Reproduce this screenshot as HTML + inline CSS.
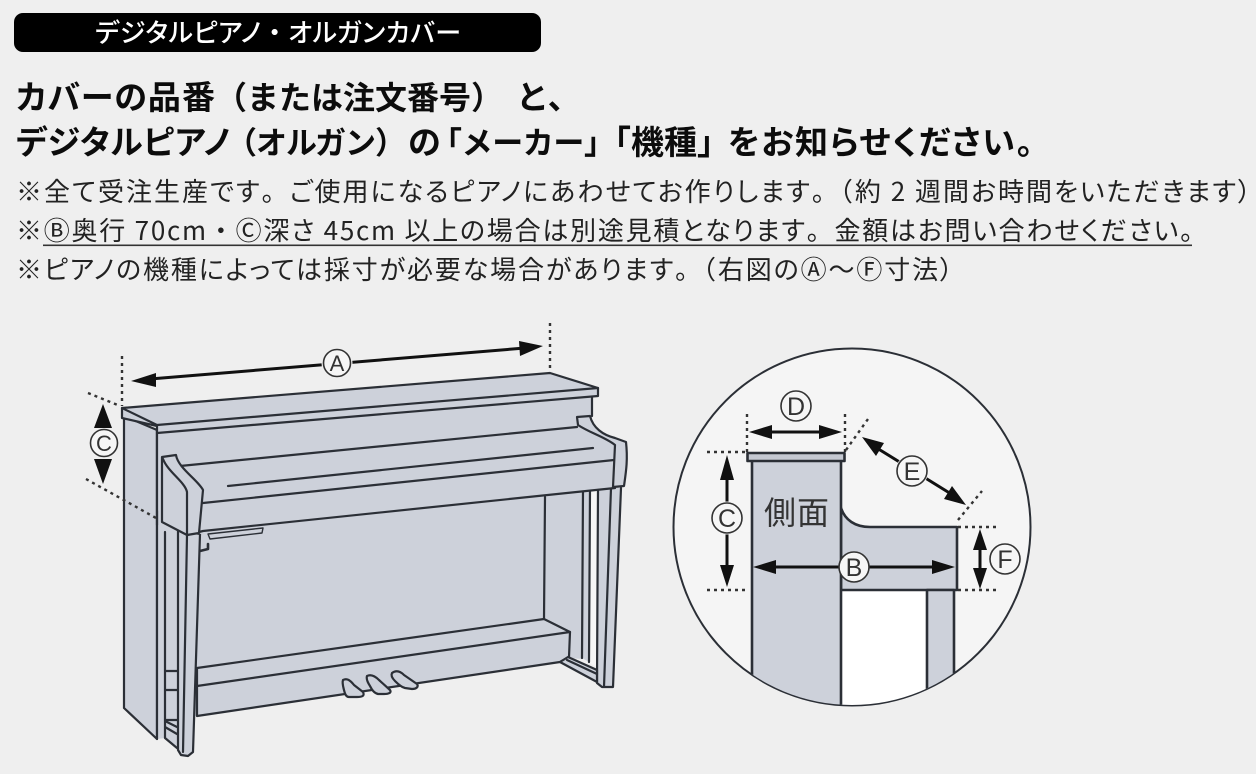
<!DOCTYPE html>
<html lang="ja"><head><meta charset="utf-8"><title>デジタルピアノ・オルガンカバー</title>
<style>
html,body{margin:0;padding:0;background:#efefef;width:1256px;height:774px;overflow:hidden}
svg{display:block}
text{font-family:"Liberation Sans","Noto Sans CJK JP",sans-serif}
.jp{font-family:"Noto Sans CJK JP",sans-serif;font-feature-settings:"palt" 1}
.n{font-feature-settings:normal}
.h{font-weight:700;font-size:33px;fill:#0c0c0c}
.b{font-weight:400;font-size:26px;fill:#222}
.f{fill:#cdd1da;stroke:none}
.p{fill:#cdd1da;stroke:#2b2f36;stroke-width:2.2;stroke-linejoin:round}
.l{fill:none;stroke:#2b2f36;stroke-width:2.2;stroke-linecap:round;stroke-linejoin:round}
.d{fill:none;stroke:#333;stroke-width:2.4;stroke-dasharray:3 4}
.a{fill:none;stroke:#111;stroke-width:3}
.ah{fill:#111}
.c{fill:#f6f6f6;stroke:#333;stroke-width:1.6}
.t{font-family:"Liberation Sans",sans-serif;fill:#333;text-anchor:middle}
</style></head><body>
<svg width="1256" height="774" viewBox="0 0 1256 774" xmlns="http://www.w3.org/2000/svg">
<rect width="1256" height="774" fill="#efefef"/>
<rect x="14" y="13" width="527" height="39" rx="9" fill="#000"/>
<text class="jp" x="95" y="42" font-size="26" font-weight="500" fill="#fff" textLength="366" lengthAdjust="spacing">デジタルピアノ<tspan class="n">・</tspan>オルガンカバー</text>

<text class="jp h" x="16" y="109" textLength="199" lengthAdjust="spacing">カバーの品番</text>
<text class="jp h n" style="font-size:32px" x="215" y="109" textLength="288" lengthAdjust="spacing">（または注文番号）</text>
<text class="jp h n" x="516" y="109">と、</text>

<text class="jp h" x="16" y="154" textLength="214" lengthAdjust="spacing">デジタルピアノ</text>
<text class="jp h n" style="font-size:31px" x="226" y="154" textLength="180" lengthAdjust="spacing">（オルガン）</text>
<text class="jp h n" x="408" y="154">の</text>
<text class="jp h n" style="font-size:31px" x="431" y="154" textLength="184" lengthAdjust="spacing">「メーカー」</text>
<text class="jp h n" x="598" y="154">「機種」</text>
<text class="jp h" x="728" y="154" textLength="305" lengthAdjust="spacing">をお知らせください。</text>

<text class="jp b" x="16" y="201" textLength="1235" lengthAdjust="spacing">※全て受注生産です<tspan class="n">。</tspan>ご使用になるピアノにあわせてお作りします<tspan class="n">。（</tspan>約 2 週間お時間をいただきます）</text>
<text class="jp b" x="16" y="240" textLength="1177" lengthAdjust="spacing">※Ⓑ奥行 70cm<tspan class="n">・</tspan>Ⓒ深さ 45cm 以上の場合は別途見積となります<tspan class="n">。</tspan>金額はお問い合わせください。</text>
<rect x="43" y="244.5" width="1149" height="1.6" fill="#333"/>
<text class="jp b" x="16" y="279" textLength="937" lengthAdjust="spacing">※ピアノの機種によっては採寸が必要な場合があります<tspan class="n">。（</tspan>右図のⒶ～Ⓕ寸法）</text>

<!-- Left piano -->
<g>
<polygon class="p" points="124,416 157,430 157,739 124,708"/>
<polygon class="f" points="157,430 592,394 592,420 615,488 545,497 545,625 420,660 195,716 195,540 157,540"/>
<polygon class="f" points="545,488 584,488 583,659 568,658 545,625"/>
<line class="l" x1="545" y1="497" x2="544" y2="619"/>
<polygon fill="#f6f6f6" points="590,488 598,488 597,668 589,662"/>
<polygon class="f" points="583,488 590,488 589,662 582,658"/>
<polygon class="f" points="598,488 621,487 614,686 602,688 597,683"/>
<path class="l" d="M583,489 L582,658 M590,489 L589,662 M598,488 L597,683 L602,687 L613,687 L621,488 M611,488 L604,687"/>
<polygon class="p" points="197,668 544,619 570,632 569,657 560,662 197,716"/>
<path class="l" d="M197,686 L570,632"/>
<polygon class="p" points="560,662 568,657 597,670 597,682"/>
<path class="l" d="M567,660 L597,674"/>
<path class="p" d="M343,680 C347,678 350,680 354,685 L363,692 C365,696 362,697 357,697 L349,697 C346,697 345,694 344,690 C343,686 342,683 343,680 Z"/>
<path class="p" d="M367,676 C371,674 375,676 379,680 L390,690 C392,693 388,694 384,694 L378,694 C374,693 372,690 370,686 C368,683 366,679 367,676 Z"/>
<path class="p" d="M392,673 C396,670 400,671 404,675 L417,684 C419,687 416,689 412,689 L405,688 C401,687 398,684 395,681 C392,678 391,675 392,673 Z"/>
<polygon class="f" points="157,520 178,520 177,748 165,738 157,739"/>
<path class="l" d="M157,430 L157,739 M165,532 L165,738 L177,748 M165,671 L177,671 M165,690 L177,690 M165,721 L177,727 M165,727 L177,734 M165,720 L177,720"/>
<polygon class="p" points="178,530 200,534 193,752 188,756 181,755 178,750"/>
<path class="l" d="M187,535 L183,752"/>
<polygon class="f" points="158,433 592,396 592,420 578,425 616,445 624,486 199,534 187,535 162,522 158,510"/>
<line class="l" x1="157" y1="433" x2="157" y2="525"/>
<line class="l" x1="592" y1="397" x2="592" y2="416"/>
<polygon class="p" points="122,408 550,373 598,388 598,396 157,433 157,426 122,418"/>
<path class="l" d="M122,408 L157,425 L598,388"/>
<path class="l" d="M180,466 L577,427 M228,486 L593,448 M203,503 L614,460 M187,535 L203,531 L615,488"/>
<path class="p" d="M162,457 L176,455 C178,468 198,480 203,490 L199,533 L187,535 L162,522 Z"/>
<path class="l" d="M163,459 C168,472 185,482 187,492 L187,535"/>
<path class="p" d="M577,417 L590,416 C593,428 603,435 615,438 L626,442 C628,460 626,472 624,486 L613,487 L615,445 C605,437 590,433 578,425 Z"/>
<polygon class="p" style="stroke-width:1.4" points="208,534 263,528 262,533 210,539"/>
<path class="l" style="stroke-width:2.6" d="M208,544 L208,549 L200,551"/>
<path class="d" d="M122,356 L122,406 M88,393 L120,406 M86,479 L156,518 M550,323 L550,371"/>
<path class="a" d="M150,379 L525,348"/>
<path class="ah" d="M131,381 L156,373 L156,387 Z M543,346 L519,341 L520,356 Z"/>
<circle cx="337" cy="363" r="15.5" fill="#efefef"/>
<circle class="c" cx="337" cy="363" r="13.5"/><text class="t" x="337" y="371" font-size="22">A</text>
<path class="ah" d="M103,404 L94,428 L112,428 Z M103,484 L94,459 L112,459 Z"/>
<circle class="c" cx="104" cy="443" r="13.5"/><text class="t" x="104" y="451" font-size="22">C</text>
</g>

<!-- Side circle -->
<g>
<circle cx="852" cy="527" r="178.5" fill="#f5f5f5" stroke="#2b2f36" stroke-width="2"/>
<clipPath id="cc"><circle cx="852" cy="527" r="178"/></clipPath>
<g clip-path="url(#cc)">
<rect x="841" y="590" width="86" height="120" fill="#fff"/>
<path class="p" style="stroke-width:2.6" d="M841,508 C845,520 855,527 870,527 L957,527 L957,590 L841,590 Z"/>
<rect x="927" y="590" width="27" height="120" class="p" style="stroke-width:2.6"/>
<rect x="752" y="460" width="89" height="260" class="p" style="stroke-width:2.6"/>
<rect x="747.5" y="453" width="97" height="8" class="p" style="fill:#c4c8d1;stroke-width:2.6"/>
</g>
<text class="jp" x="764" y="524" font-size="32" fill="#333" textLength="65" lengthAdjust="spacing">側面</text>
<path class="d" d="M747,414 L747,452 M845,414 L845,452 M846,450 L868,419 M707,452 L746,452 M707,590 L746,590 M958,520 L982,491 M958,527 L1000,527 M958,590 L1000,590"/>
<path class="a" d="M760,432 L832,432"/>
<path class="ah" d="M749,432 L772,425 L772,439 Z M842,432 L819,425 L819,439 Z"/>
<circle class="c" cx="796" cy="406" r="15"/><text class="t" x="796" y="415" font-size="25">D</text>
<path class="a" d="M727,465 L727,578"/>
<path class="ah" d="M727,455 L720,480 L734,480 Z M727,587 L720,565 L734,565 Z"/>
<circle cx="727" cy="518" r="16.5" fill="#f5f5f5"/>
<circle class="c" cx="727" cy="518" r="15"/><text class="t" x="727" y="527" font-size="25">C</text>
<path class="a" d="M765,567 L945,567"/>
<path class="ah" d="M753,567 L776,560 L776,574 Z M955,567 L932,560 L932,574 Z"/>
<circle class="c" cx="854" cy="567" r="15"/><text class="t" x="854" y="576" font-size="25">B</text>
<path class="a" d="M872,445 L956,497"/>
<path class="ah" d="M862,437 L884,443 L876,456 Z M966,505 L944,499 L952,486 Z"/>
<circle cx="912" cy="471" r="16.5" fill="#f5f5f5"/>
<circle class="c" cx="912" cy="471" r="15"/><text class="t" x="912" y="480" font-size="25">E</text>
<path class="a" d="M980,536 L980,582"/>
<path class="ah" d="M980,529 L973,550 L987,550 Z M980,589 L973,568 L987,568 Z"/>
<circle class="c" cx="1005" cy="559" r="15"/><text class="t" x="1005" y="568" font-size="25">F</text>
</g>
</svg>
</body></html>
